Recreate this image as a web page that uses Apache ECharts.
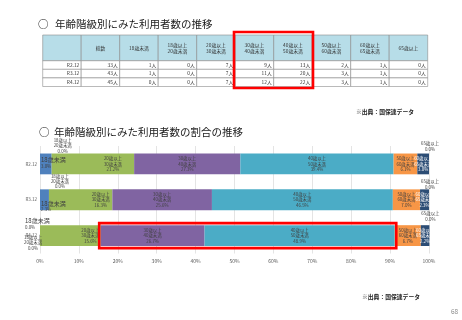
<!DOCTYPE html>
<html><head><meta charset="utf-8">
<script src="https://cdn.jsdelivr.net/npm/echarts@6/dist/echarts.min.js"></script>
<style>html,body{margin:0;padding:0;background:#fff}#c{width:462px;height:320px}</style>
</head><body><div id="c"></div>
<script>
// ---- data ----
const years = ['R2.12', 'R3.12', 'R4.12'];
const ageGroups = ['18歳未満', '18歳以上\n20歳未満', '20歳以上\n30歳未満', '30歳以上\n40歳未満', '40歳以上\n50歳未満', '50歳以上\n60歳未満', '60歳以上\n65歳未満', '65歳以上'];
const tableHeaders = ['', '総数', '18歳未満', '18歳以上\n20歳未満', '20歳以上\n30歳未満', '30歳以上\n40歳未満', '40歳以上\n50歳未満', '50歳以上\n60歳未満', '60歳以上\n65歳未満', '65歳以上'];
const totals = [33, 43, 45];
const countsR2 = [1, 0, 7, 9, 13, 2, 1, 0];
const countsR3 = [1, 0, 7, 11, 20, 3, 1, 0];
const countsR4 = [0, 0, 7, 12, 22, 3, 1, 0];
const pctR2 = [3.0, 0.0, 21.2, 27.3, 39.4, 6.1, 3.0, 0.0];
const pctR3 = [2.3, 0.0, 16.3, 25.6, 46.5, 7.0, 2.3, 0.0];
const pctR4 = [0.0, 0.0, 15.6, 26.7, 48.9, 6.7, 2.2, 0.0];
const xTickLabels = ['0%', '10%', '20%', '30%', '40%', '50%', '60%', '70%', '80%', '90%', '100%'];
const unit = '人';

// ---- build ----
const FONT = '"Noto Sans CJK JP", "Noto Sans", sans-serif';
const colors = ['#4f81bd', '#c0504d', '#9bbb59', '#8064a2', '#4bacc6', '#f79646', '#2c4d75', '#772c2a'];
const counts = [countsR2, countsR3, countsR4];
const pcts = [pctR2, pctR3, pctR4];

// table cells: [col, rowStart, rowEnd, isHeader]
const cellData = [], cellTexts = [];
tableHeaders.forEach((h, c) => { cellData.push([c, 0, 3, 1]); cellTexts.push(h); });
years.forEach((y, r) => {
  cellData.push([0, 3 + r, 4 + r, 0]); cellTexts.push(y);
  cellData.push([1, 3 + r, 4 + r, 0]); cellTexts.push(totals[r] + unit);
  counts[r].forEach((v, i) => { cellData.push([2 + i, 3 + r, 4 + r, 0]); cellTexts.push(v + unit); });
});

function labelFor(i, j) {
  const base = { show: true, fontSize: 4.4, lineHeight: 5.4, color: '#404040', fontFamily: FONT, position: 'inside' };
  if (i === 0) {
    base.formatter = p => '{b|' + ageGroups[i] + '}\n' + p.value.toFixed(1) + '%';
    base.rich = { b: { fontSize: 6, lineHeight: 7, color: '#404040', fontFamily: FONT } };
    base.align = 'left';
    if (j === 0) { base.position = [1, 3]; }
    if (j === 1) { base.position = [1, 10.5]; }
    if (j === 2) { base.position = [-15, -8]; }
    return base;
  }
  base.formatter = p => ageGroups[i] + '\n' + p.value.toFixed(1) + '%';
  if (i === 1) {
    base.align = 'center'; base.verticalAlign = 'middle';
    base.position = j === 2 ? [-7, 17.5] : [11, -8];
  } else if (i === 7) {
    base.align = 'center'; base.verticalAlign = 'middle';
    base.position = [1, j === 0 ? -7 : (j === 1 ? -5 : -9)];
  } else if (i === 2) {
    base.offset = [20, 0];
  } else if (i === 6) {
    base.color = '#ffffff';
  }
  return base;
}

const barSeries = ageGroups.map((g, i) => ({
  name: g, type: 'bar', stack: 'total', xAxisIndex: 1, yAxisIndex: 1,
  barCategoryGap: '42%', clip: false,
  itemStyle: { color: colors[i] },
  data: years.map((y, j) => ({ value: pcts[j][i], label: labelFor(i, j) }))
}));

const chart = echarts.init(document.getElementById('c'), null, { renderer: 'canvas' });
const option = {
  backgroundColor: '#ffffff',
  animation: false,
  textStyle: { fontFamily: FONT },
  grid: [
    { left: 42.7, width: 385, top: 35, height: 51.5 },
    { left: 40, width: 389, top: 146, height: 107.5 }
  ],
  xAxis: [
    { gridIndex: 0, type: 'value', min: 0, max: 10, show: false },
    { gridIndex: 1, type: 'value', min: 0, max: 100, interval: 10,
      axisLine: { show: false }, axisTick: { show: false },
      axisLabel: { formatter: (v, idx) => xTickLabels[idx], fontSize: 5, color: '#595959', margin: 5, fontFamily: FONT },
      splitLine: { lineStyle: { color: '#d9d9d9', width: 0.7 } } }
  ],
  yAxis: [
    { gridIndex: 0, type: 'value', min: 0, max: 6, inverse: true, show: false },
    { gridIndex: 1, type: 'category', data: years, inverse: true,
      axisLine: { show: false }, axisTick: { show: false },
      axisLabel: { fontSize: 4.5, color: '#595959', margin: 3, fontFamily: FONT } }
  ],
  series: [
    {
      type: 'custom', xAxisIndex: 0, yAxisIndex: 0, data: cellData,
      renderItem: (params, api) => {
        const c = api.value(0), r0 = api.value(1), r1 = api.value(2), hdr = api.value(3);
        const a = api.coord([c, r0]), b = api.coord([c + 1, r1]);
        const x = a[0], y = Math.min(a[1], b[1]), w = b[0] - a[0], h = Math.abs(b[1] - a[1]);
        const t = cellTexts[params.dataIndex];
        return { type: 'group', children: [
          { type: 'rect', shape: { x, y, width: w, height: h },
            style: { fill: hdr ? '#b7dde8' : '#ffffff', stroke: '#8c8c8c', lineWidth: 0.6 } },
          { type: 'text', style: { text: t, x: hdr ? x + w / 2 : x + w - 2, y: y + h / 2,
            align: hdr ? 'center' : 'right', verticalAlign: 'middle', fontSize: 4.8, lineHeight: 6,
            fill: '#333333', fontFamily: FONT } }
        ] };
      }
    },
    ...barSeries
  ]
};
chart.setOption(option);

// annotations
const t0 = chart.convertToPixel({ xAxisIndex: 0, yAxisIndex: 0 }, [5, 0]);
const t1 = chart.convertToPixel({ xAxisIndex: 0, yAxisIndex: 0 }, [7, 6]);
const boxStart = pctR4[0] + pctR4[1] + pctR4[2];
const boxEnd = boxStart + pctR4[3] + pctR4[4];
const b0 = chart.convertToPixel({ xAxisIndex: 1, yAxisIndex: 1 }, [boxStart, years[2]]);
const b1 = chart.convertToPixel({ xAxisIndex: 1, yAxisIndex: 1 }, [boxEnd, years[2]]);

const titleStyle = { fontSize: 10.5, fill: '#1a1a1a', fontFamily: FONT, verticalAlign: 'middle' };
chart.setOption({
  graphic: [
    { type: 'text', left: 38, top: 19, style: Object.assign({ text: '○' }, titleStyle) },
    { type: 'text', left: 55, top: 19, style: Object.assign({ text: '年齢階級別にみた利用者数の推移' }, titleStyle) },
    { type: 'text', left: 39, top: 127, style: Object.assign({ text: '○' }, titleStyle) },
    { type: 'text', left: 54, top: 127, style: Object.assign({ text: '年齢階級別にみた利用者数の割合の推移' }, titleStyle) },
    { type: 'text', left: 356, top: 109, style: { text: '※出典：国保連データ', fontSize: 5.8, fill: '#222', fontWeight: 'bold', fontFamily: FONT } },
    { type: 'text', left: 362, top: 294, style: { text: '※出典：国保連データ', fontSize: 5.8, fill: '#222', fontWeight: 'bold', fontFamily: FONT } },
    { type: 'text', left: 451, top: 308, style: { text: '68', fontSize: 6.5, fill: '#8c8c8c', fontFamily: FONT } },
    { type: 'rect', shape: { x: t0[0] - 1.2, y: t0[1] - 3, width: t1[0] - t0[0] + 2, height: t1[1] - t0[1] + 4.5 },
      style: { fill: 'none', stroke: '#ff0000', lineWidth: 2.6 }, z: 100 },
    { type: 'rect', shape: { x: b0[0] - 1.5, y: b0[1] - 12.5, width: b1[0] - b0[0] + 3, height: 25 },
      style: { fill: 'none', stroke: '#ff0000', lineWidth: 2.6 }, z: 100 }
  ]
});
</script>
</body></html>
